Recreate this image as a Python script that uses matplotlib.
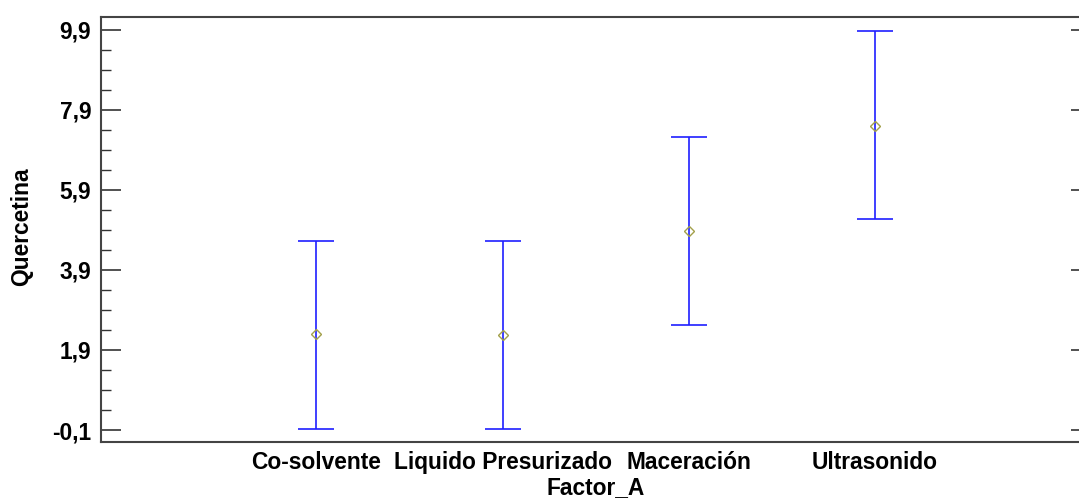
import numpy as np
import matplotlib.pyplot as plt
from matplotlib.ticker import FixedLocator, FuncFormatter

categories = ['Co-solvente', 'Liquido Presurizado', 'Maceración', 'Ultrasonido']
means = np.array([2.30, 2.26, 4.88, 7.49])
lower = np.array([-0.07, -0.07, 2.52, 5.17])
upper = np.array([4.63, 4.63, 7.21, 9.86])
yticks = [-0.1, 1.9, 3.9, 5.9, 7.9, 9.9]

plt.rcParams['font.family'] = ['Liberation Sans', 'DejaVu Sans']

fig = plt.figure(figsize=(10.79, 5.03), dpi=100)
ax = fig.add_axes([101 / 1079, 1 - 441.5 / 503, 990 / 1079, 425 / 503])

x = np.arange(1, len(categories) + 1)
ax.errorbar(x, means, yerr=[means - lower, upper - means], fmt='none',
            ecolor='#1f1fff', elinewidth=1.2, capsize=13.3, capthick=1.2)
ax.plot(x, means, linestyle='none', marker='D', markersize=5,
        markerfacecolor='none', markeredgecolor='#a3a04a', markeredgewidth=1.0)

ax.set_xlim(-0.157, 5.16)
ax.set_ylim(-0.387, 10.225)

ax.set_xticks(x)
ax.set_xticklabels(categories, fontsize=16.4, fontweight='bold')
ax.tick_params(axis='x', length=0, pad=7)

ax.yaxis.set_major_locator(FixedLocator(yticks))
ax.yaxis.set_minor_locator(FixedLocator(np.arange(-0.1, 10.0, 0.5)))
ax.yaxis.set_major_formatter(FuncFormatter(lambda v, p: f'{v:.1f}'.replace('.', ',')))
ax.tick_params(axis='y', which='major', direction='in', length=14.5, width=1.2,
               right=True, labelsize=16.4, pad=7, color='#333333')
ax.tick_params(axis='y', which='minor', direction='in', length=7.5, width=1.0,
               right=True, color='#333333')
for lab in ax.get_yticklabels():
    lab.set_fontweight('bold')

for s in ax.spines.values():
    s.set_color('#444444')
    s.set_linewidth(1.5)

ax.set_xlabel('Factor_A', fontsize=16.4, fontweight='bold', labelpad=1)
ax.set_ylabel('Quercetina', fontsize=16.4, fontweight='bold')
ax.yaxis.set_label_coords(-0.0687, 0.505)

plt.savefig('out.png', dpi=100)
